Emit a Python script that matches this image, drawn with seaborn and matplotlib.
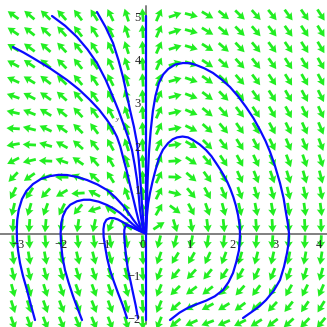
import numpy as np
import pandas as pd
import matplotlib
matplotlib.use("Agg")
import matplotlib.pyplot as plt
import seaborn as sns

# direction field of the system  x' = x*y ,  y' = y - x*y - x^2
grid_x = np.linspace(-3.09, 4.07, 20)
grid_y = np.linspace(-2.08, 5.08, 20)


def field(x, y):
    return x * y, y - x * y - x ** 2


# solution curves
curve_a_x = [-3.093, -2.85, -2.628, -2.23, -1.837, -1.56, -1.302, -1.09, -0.907, -0.78, -0.674,
             -0.60, -0.535, -0.45, -0.372, -0.30, -0.233, -0.17, -0.116, -0.05, 0]
curve_a_y = [4.337, 4.21, 4.081, 3.84, 3.570, 3.35, 3.105, 2.88, 2.640, 2.45, 2.244,
             2.03, 1.779, 1.46, 1.128, 0.83, 0.547, 0.29, 0.081, 0.02, 0]
curve_b_x = [-2.186, -1.88, -1.605, -1.36, -1.140, -0.94, -0.767, -0.64, -0.535, -0.42, -0.326,
             -0.26, -0.209, -0.17, -0.140, -0.10, -0.070, 0]
curve_b_y = [5.058, 4.83, 4.570, 4.28, 3.965, 3.58, 3.174, 2.86, 2.570, 2.25, 1.942,
             1.58, 1.244, 0.89, 0.547, 0.28, 0.081, 0]
curve_c_x = [-1.140, -0.94, -0.767, -0.64, -0.535, -0.45, -0.372, -0.28, -0.209, -0.17, -0.140,
             -0.115, -0.093, -0.07, -0.047, 0]
curve_c_y = [5.151, 4.80, 4.430, 4.03, 3.640, 3.25, 2.872, 2.48, 2.105, 1.73, 1.360,
             1.01, 0.663, 0.38, 0.128, 0]
loop_1_x = [-2.581, -2.680, -2.767, -2.860, -2.930, -2.975, -3.000, -3.005, -2.995, -2.960, -2.884,
            -2.780, -2.628, -2.440, -2.233, -2.030, -1.837, -1.600, -1.372, -1.130, -0.907, -0.710,
            -0.535, -0.400, -0.302, -0.190, -0.093, 0]
loop_1_y = [-2.012, -1.650, -1.314, -0.990, -0.686, -0.400, -0.151, 0.100, 0.314, 0.550, 0.800,
            0.990, 1.150, 1.270, 1.335, 1.365, 1.360, 1.315, 1.244, 1.140, 1.012, 0.840,
            0.650, 0.470, 0.330, 0.180, 0.075, 0]
loop_2_x = [-1.488, -1.600, -1.698, -1.800, -1.884, -1.945, -1.977, -1.985, -1.970, -1.930, -1.860,
            -1.760, -1.605, -1.450, -1.302, -1.100, -0.907, -0.750, -0.605, -0.450, -0.302, -0.180,
            -0.093, 0]
loop_2_y = [-2.012, -1.720, -1.453, -1.140, -0.849, -0.530, -0.221, 0.020, 0.244, 0.410, 0.560,
            0.670, 0.750, 0.785, 0.785, 0.740, 0.663, 0.580, 0.480, 0.345, 0.210, 0.110,
            0.050, 0]
loop_3_x = [-0.442, -0.540, -0.651, -0.750, -0.837, -0.905, -0.953, -0.985, -0.990, -0.970, -0.920,
            -0.837, -0.740, -0.651, -0.530, -0.419, -0.280, -0.140, 0]
loop_3_y = [-1.965, -1.670, -1.384, -1.110, -0.849, -0.570, -0.291, -0.080, 0.100, 0.230, 0.320,
            0.360, 0.355, 0.325, 0.260, 0.195, 0.120, 0.055, 0]
loop_4_x = [-0.186, -0.240, -0.302, -0.360, -0.419, -0.460, -0.488, -0.505, -0.505, -0.485, -0.440,
            -0.380, -0.326, -0.230, -0.140, 0]
loop_4_y = [-1.965, -1.670, -1.384, -1.110, -0.849, -0.570, -0.291, -0.080, 0.080, 0.160, 0.190,
            0.180, 0.155, 0.110, 0.060, 0]
right_1_x = [0, 0.010, 0.023, 0.040, 0.070, 0.110, 0.160, 0.220, 0.300, 0.400, 0.520, 0.680, 0.860,
             1.020, 1.163, 1.360, 1.558, 1.760, 1.953, 2.150, 2.326, 2.500, 2.651, 2.780, 2.884,
             3.000, 3.116, 3.200, 3.256, 3.300, 3.326, 3.315, 3.279, 3.210, 3.116, 2.970, 2.791,
             2.640, 2.488, 2.256]
right_1_y = [0, 0.400, 0.779, 1.300, 1.900, 2.400, 2.850, 3.200, 3.500, 3.700, 3.830, 3.930, 3.965,
             3.960, 3.919, 3.840, 3.733, 3.580, 3.407, 3.180, 2.942, 2.680, 2.407, 2.150, 1.900,
             1.570, 1.174, 0.820, 0.477, 0.220, 0.000, -0.230, -0.453, -0.770, -1.081, -1.330, -1.547,
             -1.690, -1.802, -1.965]
right_2_x = [0, 0.023, 0.050, 0.093, 0.150, 0.209, 0.302, 0.395, 0.512, 0.620, 0.721, 0.850, 0.977,
             1.093, 1.250, 1.395, 1.520, 1.628, 1.720, 1.810, 1.890, 1.960, 2.030, 2.090, 2.140,
             2.175, 2.186, 2.180, 2.163, 2.100, 2.023, 1.920, 1.791, 1.600, 1.400, 1.190, 0.980,
             0.780, 0.558]
right_2_y = [0, 0.430, 0.700, 0.942, 1.200, 1.430, 1.756, 1.950, 2.100, 2.190, 2.235, 2.255, 2.235,
             2.174, 2.070, 1.942, 1.800, 1.640, 1.500, 1.350, 1.200, 1.040, 0.850, 0.650, 0.430,
             0.200, 0.000, -0.150, -0.384, -0.660, -0.919, -1.130, -1.314, -1.460, -1.560, -1.640, -1.725,
             -1.840, -2.012]
axis_line_x = [0, 0]
axis_line_y = [-2.0, 5.05]

x_ticks = [-3, -2, -1, 0, 1, 2, 3, 4]
y_ticks = [-2, -1, 1, 2, 3, 4, 5]

curves = {
    "a": (curve_a_x, curve_a_y), "b": (curve_b_x, curve_b_y), "c": (curve_c_x, curve_c_y),
    "l1": (loop_1_x, loop_1_y), "l2": (loop_2_x, loop_2_y), "l3": (loop_3_x, loop_3_y),
    "l4": (loop_4_x, loop_4_y), "r1": (right_1_x, right_1_y), "r2": (right_2_x, right_2_y),
    "v": (axis_line_x, axis_line_y),
}
rows = []
for name, (cx, cy) in curves.items():
    for i, (px, py) in enumerate(zip(cx, cy)):
        rows.append({"curve": name, "order": i, "x": px, "y": py})
df = pd.DataFrame(rows)

sns.set_style("white")
plt.rcParams["font.family"] = ["Liberation Serif", "DejaVu Serif"]

fig = plt.figure(figsize=(3.27, 3.27), dpi=100)
ax = fig.add_axes([0, 0, 1, 1])
ax.set_xlim(-3.395, 4.209)
ax.set_ylim(-2.174, 5.430)
ax.axis("off")

# axes through the origin
ax.axhline(0, color="#808080", lw=1.4, zorder=1)
ax.plot([0, 0], [-2.1, 5.3], color="#808080", lw=1.4, zorder=1)

gx, gy = np.meshgrid(grid_x, grid_y)
u, v = field(gx, gy)
norm = np.hypot(u, v)
ax.quiver(gx, gy, u / norm, v / norm, color="#22ee22", pivot="middle",
          angles="xy", scale_units="xy", scale=1 / 0.31,
          width=0.0085, headwidth=3.0, headlength=2.6, headaxislength=2.3, zorder=2)

sns.lineplot(data=df, x="x", y="y", units="curve", estimator=None, sort=False,
             color="#0a0aff", lw=1.6, ax=ax, zorder=3, legend=False)

for t in x_ticks:
    lab = str(t).replace("-", "\u2212")
    ax.text(t + (0.03 if t < 0 else (-0.09 if t == 0 else 0.02)), -0.27, lab,
            ha="center", va="center", fontsize=9, zorder=4)
for t in y_ticks:
    lab = str(t).replace("-", "\u2212")
    ax.text(-0.12, t, lab, ha="right", va="center", fontsize=9, zorder=4)

ax.text(2.14, -0.62, "x", fontsize=5, style="italic", ha="center", va="center")
ax.text(-0.67, 2.64, "y", fontsize=5, style="italic", ha="center", va="center")

fig.savefig("out.png", dpi=100)
